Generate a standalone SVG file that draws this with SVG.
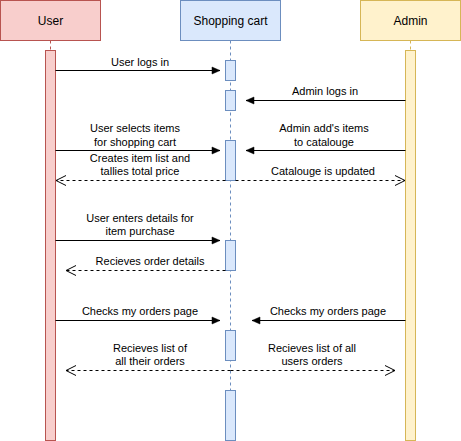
<svg xmlns="http://www.w3.org/2000/svg" width="461" height="441" viewBox="0 0 461 441">
<style>
text{font-family:"Liberation Sans",Arial,sans-serif;fill:#000;}
.hd{font-size:12px;text-anchor:middle;}
.lb{font-size:11px;text-anchor:middle;}
.msg{fill:none;stroke:#000;stroke-width:1;}
.ret{fill:none;stroke:#000;stroke-width:1;stroke-dasharray:3 3;}
.bg{fill:#fff;}
</style>
<defs>
<marker id="blk" markerUnits="userSpaceOnUse" markerWidth="10" markerHeight="10" refX="8" refY="3.5" orient="auto" overflow="visible">
<path d="M0,0 L8,3.5 L0,7 Z" fill="#000" stroke="#000" stroke-width="0.5"/>
</marker>
<marker id="opn" markerUnits="userSpaceOnUse" markerWidth="12" markerHeight="12" refX="10" refY="5" orient="auto-start-reverse" overflow="visible">
<path d="M0,0 L10,5 L0,10" fill="none" stroke="#000" stroke-width="1"/>
</marker>
</defs>
<g id="user">
<rect x="0.5" y="0.5" width="100" height="40" fill="#f8cecc" stroke="#b85450"/>
<text class="hd" x="50.5" y="24.5">User</text>
<line x1="50.5" y1="40.5" x2="50.5" y2="50" stroke="#b85450" stroke-dasharray="3 3"/>
<rect x="45.5" y="50.5" width="10" height="390" fill="#f8cecc" stroke="#b85450"/>
</g>
<g id="cart">
<rect x="180.5" y="0.5" width="100" height="40" fill="#dae8fc" stroke="#6c8ebf"/>
<text class="hd" x="230.5" y="24.5">Shopping cart</text>
<line x1="230.5" y1="40.5" x2="230.5" y2="440" stroke="#6c8ebf" stroke-dasharray="3 3"/>
<rect x="225.5" y="60.5" width="10" height="20" fill="#dae8fc" stroke="#6c8ebf"/>
<rect x="225.5" y="90.5" width="10" height="20" fill="#dae8fc" stroke="#6c8ebf"/>
<rect x="225.5" y="140.5" width="10" height="40" fill="#dae8fc" stroke="#6c8ebf"/>
<rect x="225.5" y="240.5" width="10" height="30" fill="#dae8fc" stroke="#6c8ebf"/>
<rect x="225.5" y="330.5" width="10" height="30" fill="#dae8fc" stroke="#6c8ebf"/>
<rect x="225.5" y="390.5" width="10" height="50" fill="#dae8fc" stroke="#6c8ebf"/>
</g>
<g id="admin">
<rect x="360.5" y="0.5" width="100" height="40" fill="#fff2cc" stroke="#d6b656"/>
<text class="hd" x="410.5" y="24.5">Admin</text>
<line x1="410.5" y1="40.5" x2="410.5" y2="50" stroke="#d6b656" stroke-dasharray="3 3"/>
<rect x="405.5" y="50.5" width="10" height="390" fill="#fff2cc" stroke="#d6b656"/>
</g>
<g id="connectors">
<path class="msg" d="M55.5,70.5 H220" marker-end="url(#blk)"/>
<path class="msg" d="M405.5,100.5 H246" marker-end="url(#blk)"/>
<path class="msg" d="M55.5,150.5 H220" marker-end="url(#blk)"/>
<path class="msg" d="M405.5,150.5 H246" marker-end="url(#blk)"/>
<path class="ret" d="M225.5,180.5 H56" marker-end="url(#opn)"/>
<path class="ret" d="M235.5,180.5 H405" marker-end="url(#opn)"/>
<path class="msg" d="M55.5,240.5 H220" marker-end="url(#blk)"/>
<path class="ret" d="M225.5,270.5 H66" marker-end="url(#opn)"/>
<path class="msg" d="M55.5,320.5 H220" marker-end="url(#blk)"/>
<path class="msg" d="M405.5,320.5 H252" marker-end="url(#blk)"/>
<path class="ret" d="M230.5,370.5 H66" marker-end="url(#opn)"/>
<path class="ret" d="M230.5,370.5 H395" marker-end="url(#opn)"/>
</g>
<g id="labels">
<text class="lb" x="140" y="65.5">User logs in</text>
<text class="lb" x="325" y="95">Admin logs in</text>
<text class="lb" x="135" y="131.5">User selects items</text>
<text class="lb" x="135" y="145.5">for shopping cart</text>
<text class="lb" x="324" y="131.5">Admin add's items</text>
<text class="lb" x="324" y="145.5">to catalouge</text>
<text class="lb" x="140" y="162">Creates item list and</text>
<text class="lb" x="140" y="175">tallies total price</text>
<text class="lb" x="323" y="175">Catalouge is updated</text>
<text class="lb" x="140" y="222">User enters details for</text>
<text class="lb" x="140" y="235">item purchase</text>
<text class="lb" x="150" y="265">Recieves order details</text>
<text class="lb" x="140" y="315">Checks my orders page</text>
<text class="lb" x="328" y="315">Checks my orders page</text>
<text class="lb" x="150" y="352">Recieves list of</text>
<text class="lb" x="150" y="365">all their orders</text>
<text class="lb" x="312" y="352">Recieves list of all</text>
<text class="lb" x="312" y="365">users orders</text>
</g>
</svg>
